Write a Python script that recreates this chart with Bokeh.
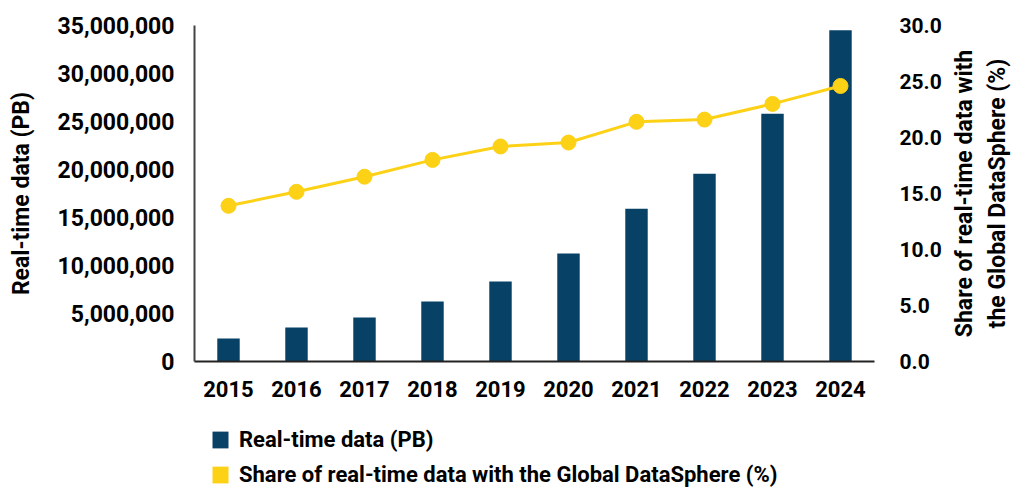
from bokeh.plotting import figure
from bokeh.layouts import column, row
from bokeh.models import (Range1d, FactorRange, LinearAxis, SingleIntervalTicker, FixedTicker,
                          NumeralTickFormatter, Legend, LegendItem, ColumnDataSource)
from bokeh.embed import file_html
from bokeh.resources import INLINE

years = ["2015", "2016", "2017", "2018", "2019", "2020", "2021", "2022", "2023", "2024"]
realtime_pb = [2400000, 3540000, 4580000, 6250000, 8330000, 11250000, 15900000, 19550000, 25800000, 34500000]
share_pct = [13.9, 15.15, 16.5, 18.0, 19.2, 19.55, 21.4, 21.6, 23.0, 24.6]

BLUE = "#084166"
YELLOW = "#FCD116"
FONT = "Roboto"

src = ColumnDataSource(dict(year=years, pb=realtime_pb, pct=share_pct))

PW = 944           # main figure width
RW = 1014 - PW     # strip holding the right-hand axis title
H_MAIN = 405
H_LEG = 86

p = figure(width=PW, height=H_MAIN, x_range=FactorRange(*years, range_padding=0),
           y_range=Range1d(0, 35000000), output_backend="svg", toolbar_location=None,
           min_border_left=194, min_border_top=25, min_border_right=PW - 884, min_border_bottom=44)
p.extra_y_ranges = {"pct": Range1d(0, 30)}
p.outline_line_color = None
p.xgrid.grid_line_color = None
p.ygrid.grid_line_color = None

bars = p.vbar(x="year", top="pb", width=0.33, source=src, fill_color=BLUE, line_color=None)
p.line(x="year", y="pct", source=src, y_range_name="pct", line_color=YELLOW, line_width=3)
p.scatter(x="year", y="pct", source=src, y_range_name="pct", size=15,
          fill_color=YELLOW, line_color=YELLOW)

# left axis
ya = p.yaxis[0]
ya.ticker = SingleIntervalTicker(interval=5000000)
ya.formatter = NumeralTickFormatter(format="0,0")
ya.axis_label = "Real-time data (PB)"
ya.axis_label_text_font = FONT
ya.axis_label_text_font_style = "bold"
ya.axis_label_text_font_size = "23px"
ya.axis_label_text_color = "black"
ya.axis_label_standoff = 20
ya.major_label_text_font = FONT
ya.major_label_text_font_style = "bold"
ya.major_label_text_font_size = "23px"
ya.major_label_text_color = "black"
ya.major_label_standoff = 14
ya.major_tick_line_color = None
ya.minor_tick_line_color = None
ya.axis_line_color = "#444444"
ya.axis_line_width = 2

# right axis (ticks)
ra = LinearAxis(y_range_name="pct", ticker=SingleIntervalTicker(interval=5),
                formatter=NumeralTickFormatter(format="0.0"))
ra.major_label_text_font = FONT
ra.major_label_text_font_style = "bold"
ra.major_label_text_font_size = "21px"
ra.major_label_text_color = "black"
ra.major_label_standoff = 19
ra.major_tick_line_color = None
ra.minor_tick_line_color = None
ra.axis_line_color = None
p.add_layout(ra, "right")

# bottom axis
xa = p.xaxis[0]
xa.major_label_text_font = FONT
xa.major_label_text_font_style = "bold"
xa.major_label_text_font_size = "22px"
xa.major_label_text_color = "black"
xa.major_label_standoff = 13
xa.major_tick_line_color = None
xa.minor_tick_line_color = None
xa.axis_line_color = "#222222"
xa.axis_line_width = 2

# legend strip
lg = figure(width=PW, height=H_LEG, x_range=FactorRange(*years), y_range=Range1d(0, 1),
            output_backend="svg", toolbar_location=None,
            min_border_left=194, min_border_right=PW - 884, min_border_top=0, min_border_bottom=0,
            x_axis_location=None, y_axis_location=None)
lg.outline_line_color = None
lg.xgrid.grid_line_color = None
lg.ygrid.grid_line_color = None
lg_src = ColumnDataSource(dict(year=years, pb=realtime_pb, pct=share_pct))
r1 = lg.vbar(x="year", top="pb", width=0, source=lg_src, fill_color=BLUE, line_color=None)
r2 = lg.vbar(x="year", top="pct", width=0, source=lg_src, fill_color=YELLOW, line_color=None)
legend = Legend(items=[LegendItem(label="Real-time data (PB)", renderers=[r1]),
                       LegendItem(label="Share of real-time data with the Global DataSphere (%)",
                                  renderers=[r2])],
                location=(16, 4), orientation="vertical",
                glyph_width=20, glyph_height=21, spacing=10, label_standoff=9,
                label_text_font=FONT, label_text_font_style="bold",
                label_text_font_size="22px", label_text_color="black",
                label_height=21, padding=0, margin=0,
                border_line_color=None, background_fill_alpha=0)
lg.add_layout(legend, "center")

# right-hand axis title: the left-axis label of a narrow strip, so it reads bottom-to-top
rf = figure(width=RW, height=H_MAIN + H_LEG, x_range=Range1d(0, 1), y_range=Range1d(0, 30),
            output_backend="svg", toolbar_location=None, x_axis_location=None,
            min_border_left=RW - 4, min_border_right=0, min_border_top=25,
            min_border_bottom=H_MAIN + H_LEG - 361)
rf.outline_line_color = None
rf.xgrid.grid_line_color = None
rf.ygrid.grid_line_color = None
ry = rf.yaxis[0]
ry.ticker = FixedTicker(ticks=[])
ry.axis_label = "Share of real-time data with\nthe Global DataSphere (%)"
ry.axis_label_text_font = FONT
ry.axis_label_text_font_style = "bold"
ry.axis_label_text_font_size = "23px"
ry.axis_label_text_color = "black"
ry.axis_label_standoff = 0
ry.major_label_text_font_size = "0px"
ry.major_tick_line_color = None
ry.minor_tick_line_color = None
ry.axis_line_color = None

layout = row(column(p, lg, spacing=0), rf, spacing=0)
open("out.html", "w").write(file_html(layout, INLINE))
